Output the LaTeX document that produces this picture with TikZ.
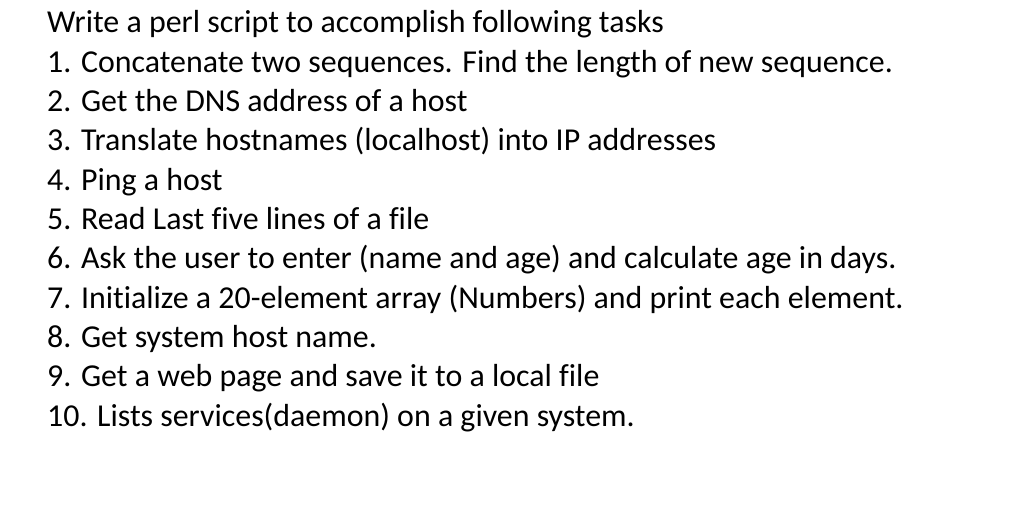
\documentclass[tikz,border=0pt]{standalone}
\usepackage{fontspec}
\setmainfont{Carlito}[Ligatures=NoCommon]
\begin{document}
\begin{tikzpicture}[x=1pt,y=1pt,txt/.style={anchor=base west,inner sep=0pt,font=\fontsize{31.9}{34}\selectfont}]
\useasboundingbox (0,0) rectangle (1024,515);
\foreach \t [count=\i from 0] in {
Write a perl script to accomplish following tasks,
1. Concatenate two sequences. Find the length of new sequence.,
2. Get the DNS address of a host,
3. Translate hostnames (localhost) into IP addresses,
4. Ping a host,
5. Read Last five lines of a file,
6. Ask the user to enter (name and age) and calculate age in days.,
7. Initialize a 20-element array (Numbers) and print each element.,
8. Get system host name.,
9. Get a web page and save it to a local file,
10. Lists services(daemon) on a given system.}
  \node[txt] (l\i) at (47,{515-33-39.3*\i}) {\t};
\end{tikzpicture}
\end{document}
